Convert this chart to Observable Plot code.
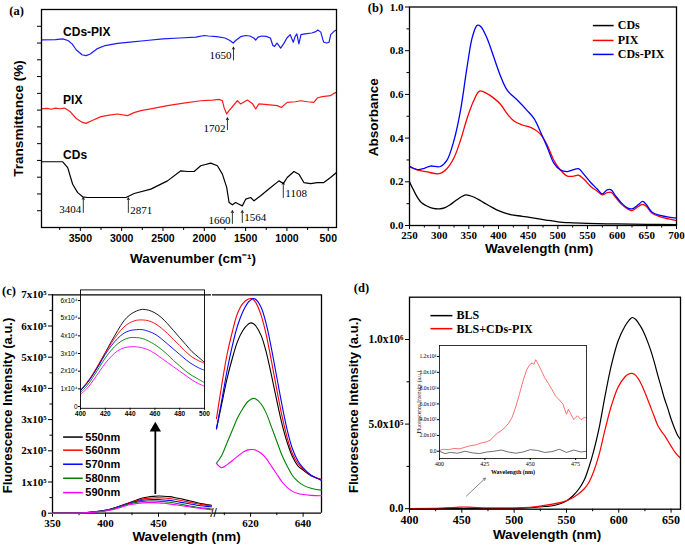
<!DOCTYPE html>
<html><head><meta charset="utf-8">
<script src="https://cdn.jsdelivr.net/npm/d3@7"></script>
<script src="https://cdn.jsdelivr.net/npm/@observablehq/plot@0.6"></script>
<style>
html,body{margin:0;padding:0;background:#fff;}
#fig{position:relative;width:685px;height:550px;overflow:hidden;background:#fff;}
#fig svg{position:absolute;left:0;top:0;}
</style></head><body><div id="fig"></div>
<script>
// ---------------- DATA ----------------
// (a) FTIR, arbitrary transmittance units (offset traces)
const ftirCDsPIX = [[3970,11.19],[3800,11.2],[3713,11.25],[3650,11.15],[3600,10.95],[3550,10.6],[3480,10.3],[3430,10.25],[3380,10.35],[3300,10.65],[3200,10.85],[3050,10.98],[2900,11.05],[2700,11.15],[2500,11.25],[2300,11.3],[2100,11.35],[2002,11.45],[1950,11.42],[1850,11.38],[1750,11.3],[1690,11.15],[1650,11.0],[1620,11.15],[1560,11.38],[1500,11.45],[1450,11.42],[1400,11.3],[1378,11.18],[1350,11.35],[1300,11.42],[1250,11.4],[1200,11.3],[1170,10.85],[1150,10.8],[1120,11.0],[1090,10.8],[1076,10.7],[1040,10.95],[1000,11.3],[960,11.5],[923,11.05],[900,11.4],[880,11.55],[855,10.95],[830,11.5],[780,11.55],[700,11.6],[650,11.68],[626,11.78],[590,11.65],[565,11.2],[553,11.05],[520,11.0],[490,11.05],[470,11.5],[430,11.7],[400,11.78]];
const ftirPIX = [[3970,7.07],[3900,7.1],[3850,7.05],[3800,7.12],[3750,7.08],[3693,7.12],[3620,6.9],[3550,6.5],[3480,6.28],[3432,6.21],[3350,6.4],[3250,6.61],[3150,6.7],[3050,6.77],[2928,6.67],[2850,6.85],[2767,6.97],[2600,7.12],[2445,7.27],[2250,7.42],[2043,7.56],[1900,7.6],[1821,7.64],[1781,7.56],[1761,7.16],[1729,6.77],[1700,6.97],[1660,7.2],[1600,7.56],[1560,7.37],[1479,7.6],[1419,7.4],[1378,7.07],[1338,7.37],[1237,7.33],[1117,7.27],[1068,7.16],[996,7.46],[900,7.5],[835,7.56],[750,7.5],[674,7.46],[633,7.72],[573,7.8],[472,7.86],[432,8.0],[400,8.06]];
const ftirCDs = [[3970,3.92],[3800,3.92],[3713,3.92],[3653,3.57],[3593,2.58],[3532,2.08],[3472,1.83],[3411,1.79],[3200,1.79],[2948,1.79],[2848,2.03],[2647,2.29],[2445,2.78],[2284,3.38],[2204,3.34],[2123,3.34],[2043,3.68],[1922,3.84],[1841,3.68],[1781,3.18],[1729,2.39],[1700,1.49],[1660,1.35],[1620,1.49],[1580,1.39],[1540,1.29],[1499,1.69],[1439,1.79],[1398,1.59],[1318,1.89],[1197,2.39],[1096,2.78],[1044,2.62],[996,2.98],[915,3.34],[855,3.18],[795,2.68],[714,2.62],[634,2.68],[553,2.68],[472,2.98],[400,3.28]];
const ftirMajorTicks = [3500,3000,2500,2000,1500,1000,500];
const ftirMinorTicks = [3750,3250,2750,2250,1750,1250,750];
const ftirYTicks = [1,2,3,4,5,6,7,8,9,10,11,12];
const ftirSeriesLabels = [{text:"CDs-PIX",x:3709,y:11.64},{text:"PIX",x:3709,y:7.62},{text:"CDs",x:3709,y:4.3}];
const ftirAnnotLeft = [{text:"1650",x:1647,y1:9.99,y2:10.75,ty:10.25},{text:"1702",x:1720,y1:5.83,y2:6.54,ty:5.91},{text:"3404",x:3464,y1:0.9,y2:1.79,ty:1.06},{text:"1660",x:1660,y1:0.24,y2:1.0,ty:0.44}];
const ftirAnnotRight = [{text:"2871",x:2919,y1:0.9,y2:1.77,ty:1.0},{text:"1564",x:1540,y1:0.3,y2:1.0,ty:0.6},{text:"1108",x:1044,y1:1.79,y2:2.69,ty:2.03}];

// (b) UV-vis absorbance
const uvCDs = [[250,0.2],[255,0.172],[260,0.145],[265,0.122],[270,0.105],[280,0.088],[290,0.078],[300,0.076],[310,0.082],[320,0.098],[330,0.118],[340,0.135],[345,0.14],[350,0.138],[360,0.128],[370,0.113],[380,0.097],[390,0.082],[400,0.068],[410,0.058],[420,0.05],[440,0.042],[460,0.034],[480,0.025],[500,0.017],[520,0.013],[550,0.01],[600,0.007],[650,0.005],[700,0.004]];
const uvPIX = [[250,0.268],[263,0.255],[280,0.245],[300,0.237],[313,0.26],[325,0.31],[336,0.39],[347,0.49],[358,0.57],[368,0.615],[380,0.605],[392,0.583],[403,0.556],[415,0.51],[426,0.478],[440,0.46],[455,0.448],[468,0.425],[480,0.38],[493,0.3],[504,0.255],[516,0.226],[527,0.226],[535,0.23],[544,0.212],[555,0.18],[566,0.158],[575,0.14],[583,0.15],[590,0.152],[597,0.13],[606,0.1],[617,0.077],[625,0.068],[636,0.088],[643,0.097],[649,0.088],[659,0.056],[673,0.04],[687,0.03],[700,0.022]];
const uvCDsPIX = [[250,0.272],[263,0.256],[275,0.262],[285,0.272],[302,0.27],[313,0.298],[325,0.39],[336,0.527],[347,0.725],[356,0.863],[364,0.916],[370,0.911],[381,0.855],[392,0.771],[403,0.687],[415,0.618],[432,0.573],[448,0.527],[460,0.489],[471,0.427],[482,0.359],[493,0.287],[504,0.255],[516,0.247],[527,0.256],[535,0.26],[544,0.234],[555,0.198],[566,0.168],[575,0.145],[583,0.163],[590,0.163],[597,0.137],[606,0.107],[617,0.081],[625,0.076],[636,0.096],[643,0.11],[649,0.096],[659,0.061],[673,0.046],[687,0.038],[700,0.034]];
const uvLegend = [{name:"CDs",color:"#000000",y:0.915},{name:"PIX",color:"#ff0000",y:0.847},{name:"CDs-PIX",color:"#0000ff",y:0.783}];

// (c) fluorescence at different excitation wavelengths
const flSeries = ["550nm","560nm","570nm","580nm","590nm"];
const flColors = ["#000000","#ff0000","#0000ff","#008000","#ff00ff"];
const flPreWl = [350,360,370,380,390];
const flPre = [[0,0,200,1500,4500],[0,0,200,1500,4600],[0,0,200,1400,4300],[0,0,180,1300,4000],[0,0,150,1200,3600]];
const flWl = [400,405,410,415,420,425,430,435,440,445,450,455,460,465,470,475,480,485,490,495,500];
const flBlue550 = [9000,13000,18000,24000,30500,37000,43000,48500,52000,54000,55000,54500,53000,50500,47000,43000,39000,35000,31000,28000,25000];
const flBlue560 = [9500,13500,18500,24500,30500,36000,41000,45000,47500,48800,49000,48500,47000,44500,41500,38000,34500,31000,28000,26000,24500];
const flBlue570 = [9000,13000,18000,23500,29500,34500,38500,41500,43000,43500,43500,42500,41000,38500,35500,32500,29500,26500,24000,22000,20500];
const flBlue580 = [8000,11500,16500,22000,27500,32000,35500,37800,39000,39000,38500,37000,35000,32500,29500,26000,23000,20000,17500,15500,13500];
const flBlue590 = [7000,10000,14500,19500,24500,28500,31500,33200,33800,33800,33200,32000,30000,27500,25000,22500,20000,17500,15000,13000,11500];
const flRedWl = [607,609,611,613,615,617,619,620,621,622,624,626,628,630,632,634,636,638,640,643,647];
const flRed550 = [270000,350000,430000,495000,550000,585000,605000,610000,608000,600000,570000,515000,440000,360000,285000,225000,180000,152000,138000,120000,108000];
const flRed560 = [303000,410000,507000,580000,640000,672000,686000,688000,685000,675000,635000,570000,485000,395000,310000,240000,190000,160000,142000,122000,107000];
const flRed570 = [270000,360000,455000,535000,600000,645000,675000,683000,688000,685000,660000,605000,525000,435000,345000,265000,205000,168000,145000,122000,105000];
const flRed580 = [160000,185000,225000,265000,305000,335000,358000,364000,368000,366000,350000,320000,275000,230000,185000,150000,120000,102000,90000,80000,74000];
const flRed590 = [160000,146000,155000,168000,182000,195000,203000,204000,204000,202000,192000,175000,150000,125000,100000,82000,70000,63000,60000,57000,56000];
const flYTicks = [0,100000,200000,300000,400000,500000,600000,700000];
const flYTickLabels = ["0","1x10⁵","2x10⁵","3x10⁵","4x10⁵","5x10⁵","6x10⁵","7x10⁵"];
const flInsetYTicks = [0,10000,20000,30000,40000,50000,60000];
const flInsetYTickLabels = ["0","1x10⁴","2x10⁴","3x10⁴","4x10⁴","5x10⁴","6x10⁴"];
const flLegendY = [244000,202000,157000,112000,66000];

// (d) BLS fluorescence
const blsMain = [[400,0],[430,1000],[460,1500],[490,1500],[500,2500],[510,4500],[520,8000],[530,13000],[540,22000],[549,43000],[556,75000],[562,118000],[567,170000],[571,236000],[576,340000],[581,470000],[587,670000],[593,850000],[599.5,994000],[606,1080000],[610,1115000],[613,1130000],[616,1120000],[618.5,1100000],[621.6,1070000],[624.8,1030000],[628,980000],[631.1,925000],[634.2,860000],[637.4,787000],[640.5,720000],[643.7,650000],[647,590000],[650,530000],[653,480000],[656.3,433000],[659,410000]];
const blsPixMain = [[400,1000],[430,3000],[445,8000],[452,10000],[460,8000],[475,4000],[490,3500],[500,4000],[510,6000],[520,11000],[535,25000],[549,45000],[556,65000],[562,90000],[567,118000],[571,150000],[576,220000],[581,315000],[587,470000],[593,610000],[599.5,720000],[606,780000],[609,795000],[612,800000],[615,795000],[618.5,770000],[621.6,735000],[624.8,690000],[628,640000],[631.1,590000],[634.2,540000],[637.4,490000],[640.5,460000],[643.7,433000],[647,400000],[650,370000],[653,340000],[656.3,315000],[659,300000]];
const blsInset = [[400,0],[403,-300],[406,-150],[410,-250],[414,0],[418,-200],[422,-300],[426,-100],[430,0],[434,150],[438,-100],[442,-250],[446,-100],[450,200],[454,100],[458,-150],[462,-50],[466,250],[470,-150],[474,150],[478,-100],[481,0]];
const blsPixInset = [[400,100],[402,250],[405,200],[408,350],[411,300],[414,500],[417,700],[420,800],[423,1050],[426,1200],[428,1400],[430,1900],[432,2300],[434,2600],[436,3000],[438,3500],[440,4300],[442,5600],[444,7200],[446,8900],[448,10300],[449.5,10900],[451,11200],[452,11000],[453,11600],[454,11200],[456,10300],[458,9300],[460,8600],[462,7800],[464,7000],[466,6500],[468,6000],[469,5300],[470,4700],[471,5300],[472,4900],[474,4000],[476,4500],[478,4000],[480,4300],[481,4200]];
const blsYTicks = [0,500000,1000000];
const blsYTickLabels = ["0.0","5.0x10⁵","1.0x10⁶"];
const blsInsetYTicks = [0,2000,4000,6000,8000,10000,12000];
const blsInsetYTickLabels = ["0.0","2.0x10³","4.0x10³","6.0x10³","8.0x10³","1.0x10⁴","1.2x10⁴"];
const blsLegend = [{name:"BLS",color:"#000000",y:1141000},{name:"BLS+CDs-PIX",color:"#ff0000",y:1064000}];

// ---------------- RENDER ----------------
const W = 685, H = 550;
const SANS = "Liberation Sans, Arial, sans-serif";
const SERIF = "Liberation Serif, Times New Roman, serif";
const fig = document.getElementById("fig");
function panel(opts) {
  const svg = Plot.plot(Object.assign({width: W, height: H, style: {background: "transparent", overflow: "visible"}}, opts));
  fig.append(svg);
}
const X = d => d[0], Y = d => d[1];
const blank = () => "";
const idt = d => d;
const C = {textAnchor: "middle", lineAnchor: "middle"};
function title(txt, o) { return Plot.text([txt], Object.assign({text: idt, fontWeight: "bold"}, C, o)); }

// ===== (a) =====
panel({
  marginLeft: 41, marginRight: 349, marginTop: 9, marginBottom: 323,
  x: {domain: [3970, 400]}, y: {domain: [0, 13]},
  marks: [
    Plot.axisX({ticks: ftirMajorTicks, tickSize: 4, tickPadding: 3, tickFormat: d => String(d), fontSize: 10.5, fontWeight: "bold", fontFamily: SANS, label: null}),
    Plot.axisX({ticks: ftirMinorTicks, tickSize: 3, tickFormat: blank, label: null}),
    Plot.axisY({ticks: ftirYTicks, tickSize: 4, tickFormat: blank, label: null}),
    Plot.line(ftirCDsPIX, {x: X, y: Y, stroke: "#1a1aff", strokeWidth: 1.2}),
    Plot.line(ftirPIX, {x: X, y: Y, stroke: "#ff1a1a", strokeWidth: 1.2}),
    Plot.line(ftirCDs, {x: X, y: Y, stroke: "#000", strokeWidth: 1.2}),
    Plot.text(ftirSeriesLabels, {x: "x", y: "y", text: "text", textAnchor: "start", fontSize: 12, fontWeight: "bold", fontFamily: SANS}),
    Plot.arrow(ftirAnnotLeft, {x1: "x", x2: "x", y1: "y1", y2: "y2", headLength: 4, strokeWidth: 0.8}),
    Plot.arrow(ftirAnnotRight, {x1: "x", x2: "x", y1: "y1", y2: "y2", headLength: 4, strokeWidth: 0.8}),
    Plot.text(ftirAnnotLeft, {x: "x", y: "ty", text: "text", textAnchor: "end", dx: -2, fontSize: 11, fontFamily: SERIF}),
    Plot.text(ftirAnnotRight, {x: "x", y: "ty", text: "text", textAnchor: "start", dx: 2, fontSize: 11, fontFamily: SERIF}),
    Plot.frame({strokeWidth: 1.3}),
    title("Wavenumber (cm⁻¹)", {frameAnchor: "bottom", dx: 4, dy: 31, fontSize: 13.5, fontFamily: SANS}),
    title("Transmittance (%)", {frameAnchor: "left", rotate: -90, dx: -23, fontSize: 13.5, fontFamily: SANS}),
    title("(a)", {frameAnchor: "top-left", dx: -25, dy: 1, fontSize: 12.5, fontFamily: SERIF})
  ]
});

// ===== (b) =====
panel({
  marginLeft: 409, marginRight: 9, marginTop: 6.5, marginBottom: 325,
  x: {domain: [250, 700]}, y: {domain: [0, 1]},
  marks: [
    Plot.axisX({ticks: d3.range(250, 701, 50), tickSize: 4, tickPadding: 2, tickFormat: d => String(d), fontSize: 11, fontWeight: "bold", fontFamily: SERIF, label: null}),
    Plot.axisX({ticks: d3.range(275, 700, 50), tickSize: 2.5, tickFormat: blank, label: null}),
    Plot.axisY({ticks: [0, 0.2, 0.4, 0.6, 0.8, 1.0], tickSize: 4, tickPadding: 2, tickFormat: d => d.toFixed(1), fontSize: 11, fontWeight: "bold", fontFamily: SERIF, label: null}),
    Plot.axisY({ticks: [0.1, 0.3, 0.5, 0.7, 0.9], tickSize: 2.5, tickFormat: blank, label: null}),
    Plot.line(uvCDs, {x: X, y: Y, stroke: "#000", strokeWidth: 1.3, curve: "catmull-rom"}),
    Plot.line(uvPIX, {x: X, y: Y, stroke: "#ff0000", strokeWidth: 1.3, curve: "catmull-rom"}),
    Plot.line(uvCDsPIX, {x: X, y: Y, stroke: "#0000ff", strokeWidth: 1.3, curve: "catmull-rom"}),
    Plot.link(uvLegend, {x1: () => 559, x2: () => 594, y1: "y", y2: "y", stroke: "color", strokeWidth: 1.5}),
    Plot.text(uvLegend, {x: () => 601, y: "y", text: "name", textAnchor: "start", fontSize: 12, fontWeight: "bold", fontFamily: SERIF}),
    Plot.frame({strokeWidth: 1.3}),
    title("Wavelength (nm)", {frameAnchor: "bottom", dx: -4, dy: 23, fontSize: 13.5, fontFamily: SANS}),
    title("Absorbance", {frameAnchor: "left", rotate: -90, dx: -36, dy: 1, fontSize: 13.5, fontFamily: SANS}),
    title("(b)", {frameAnchor: "top-left", dx: -34, dy: 0.5, fontSize: 12.5, fontFamily: SERIF})
  ]
});

// ===== (c) left segment =====
const flBlueArrays = [flBlue550, flBlue560, flBlue570, flBlue580, flBlue590];
const flLeftData = flSeries.map((s, i) =>
  flPreWl.map((w, j) => ({s, w, v: flPre[i][j]})).concat(flWl.map((w, j) => ({s, w, v: flBlueArrays[i][j]})))
).flat();
const flInsetData = flSeries.map((s, i) => flWl.map((w, j) => ({s, w, v: flBlueArrays[i][j]}))).flat();
const flRightArrays = [flRed550, flRed560, flRed570, flRed580, flRed590];
const flRightData = flSeries.map((s, i) => flRedWl.map((w, j) => ({s, w, v: flRightArrays[i][j]}))).flat();
const flLegendData = flSeries.map((s, i) => ({s, y: flLegendY[i]}));
const colorScale = {domain: flSeries, range: flColors};

panel({
  marginLeft: 52, marginRight: 474, marginTop: 294.3, marginBottom: 37.3,
  x: {domain: [350, 500]}, y: {domain: [0, 700000]}, color: colorScale,
  marks: [
    Plot.axisX({ticks: [350, 400, 450], tickSize: 4, tickPadding: 2, tickFormat: d => String(d), fontSize: 11, fontWeight: "bold", fontFamily: SERIF, label: null}),
    Plot.axisX({ticks: [375, 425, 475], tickSize: 2.5, tickFormat: blank, label: null}),
    Plot.axisY({ticks: flYTicks, tickSize: 4, tickPadding: 2, tickFormat: d => flYTickLabels[flYTicks.indexOf(d)], fontSize: 11, fontWeight: "bold", fontFamily: SERIF, label: null}),
    Plot.axisY({ticks: d3.range(50000, 700000, 100000), tickSize: 2.5, tickFormat: blank, label: null}),
    Plot.ruleY([0, 700000], {strokeWidth: 1.3}),
    Plot.ruleX([350], {strokeWidth: 1.3}),
    Plot.line(flLeftData, {x: "w", y: "v", z: "s", stroke: "s", strokeWidth: 1.1, curve: "catmull-rom"}),
    Plot.link(flLegendData, {x1: () => 360, x2: () => 378.5, y1: "y", y2: "y", stroke: "s", strokeWidth: 1.5}),
    Plot.text(flLegendData, {x: () => 381, y: "y", text: "s", textAnchor: "start", fontSize: 11, fontWeight: "bold", fontFamily: SANS}),
    Plot.ruleX([447], {y1: 60000, y2: 265000, strokeWidth: 1.8}),
    Plot.dot([447], {x: idt, y: () => 272000, symbol: "triangle", r: 4.2, fill: "#000", stroke: null}),
    Plot.text(["//"], {text: idt, frameAnchor: "bottom-right", textAnchor: "middle", lineAnchor: "middle", dx: 2, dy: 0, fontSize: 12, fontFamily: SANS}),
    title("Wavelength (nm)", {frameAnchor: "bottom-left", dx: 134, dy: 23, fontSize: 13.5, fontFamily: SANS}),
    title("Fluorescence Intensity (a.u.)", {frameAnchor: "left", rotate: -90, dx: -45, dy: 1.5, fontSize: 13, fontFamily: SANS}),
    title("(c)", {frameAnchor: "top-left", dx: -43.5, dy: -4, fontSize: 12.5, fontFamily: SERIF})
  ]
});

// ===== (c) right segment =====
panel({
  marginLeft: 212, marginRight: 364, marginTop: 294.3, marginBottom: 37.3,
  x: {domain: [605.5, 647]}, y: {domain: [0, 700000], axis: null}, color: colorScale,
  marks: [
    Plot.axisX({ticks: [620, 640], tickSize: 4, tickPadding: 2, tickFormat: d => String(d), fontSize: 11, fontWeight: "bold", fontFamily: SERIF, label: null}),
    Plot.axisX({ticks: [610, 630], tickSize: 2.5, tickFormat: blank, label: null}),
    Plot.ruleY([0, 700000], {strokeWidth: 1.3}),
    Plot.ruleX([647], {strokeWidth: 1.3}),
    Plot.line(flRightData, {x: "w", y: "v", z: "s", stroke: "s", strokeWidth: 1.1, curve: "catmull-rom"})
  ]
});

// ===== (c) inset =====
panel({
  marginLeft: 80, marginRight: 481, marginTop: 289.4, marginBottom: 142.2,
  x: {domain: [400, 500]}, y: {domain: [-1000, 66000]}, color: colorScale,
  marks: [
    Plot.axisX({ticks: [400, 420, 440, 460, 480, 500], tickSize: 2, tickPadding: 1, tickFormat: d => String(d), fontSize: 6.5, fontWeight: "bold", fontFamily: SANS, label: null}),
    Plot.axisY({ticks: flInsetYTicks, tickSize: 2, tickPadding: 1, tickFormat: d => flInsetYTickLabels[flInsetYTicks.indexOf(d)], fontSize: 6.5, fontFamily: SANS, label: null}),
    Plot.line(flInsetData, {x: "w", y: "v", z: "s", stroke: "s", strokeWidth: 0.9, curve: "catmull-rom"}),
    Plot.frame({strokeWidth: 0.9})
  ]
});

// ===== (d) =====
panel({
  marginLeft: 409, marginRight: 5, marginTop: 296.7, marginBottom: 41.3,
  x: {domain: [400, 659]}, y: {domain: [-3000, 1250000]},
  marks: [
    Plot.axisX({ticks: [400, 450, 500, 550, 600, 650], tickSize: 4, tickPadding: 2, tickFormat: d => String(d), fontSize: 12, fontWeight: "bold", fontFamily: SERIF, label: null}),
    Plot.axisX({ticks: [425, 475, 525, 575, 625], tickSize: 2.5, tickFormat: blank, label: null}),
    Plot.axisY({ticks: blsYTicks, tickSize: 4, tickPadding: 2, tickFormat: d => blsYTickLabels[blsYTicks.indexOf(d)], fontSize: 11.5, fontWeight: "bold", fontFamily: SERIF, label: null}),
    Plot.axisY({ticks: [250000, 750000], tickSize: 2.5, tickFormat: blank, label: null}),
    Plot.line(blsMain, {x: X, y: Y, stroke: "#000", strokeWidth: 1.2, curve: "catmull-rom"}),
    Plot.line(blsPixMain, {x: X, y: Y, stroke: "#ff0000", strokeWidth: 1.2, curve: "catmull-rom"}),
    Plot.link(blsLegend, {x1: () => 420, x2: () => 441, y1: "y", y2: "y", stroke: "color", strokeWidth: 1.5}),
    Plot.text(blsLegend, {x: () => 445, y: "y", text: "name", textAnchor: "start", fontSize: 12, fontWeight: "bold", fontFamily: SERIF}),
    Plot.arrow([0], {x1: () => 454.4, y1: () => 74400, x2: () => 472.5, y2: () => 180600, stroke: "#555", strokeWidth: 0.7, headLength: 5}),
    Plot.frame({strokeWidth: 1.3}),
    title("Wavelength (nm)", {frameAnchor: "bottom", dx: 2, dy: 25, fontSize: 13.5, fontFamily: SANS}),
    title("Fluorescence Intensity (a.u.)", {frameAnchor: "left", rotate: -90, dx: -56, dy: 2, fontSize: 13, fontFamily: SANS}),
    title("(d)", {frameAnchor: "top-left", dx: -48, dy: -9, fontSize: 12.5, fontFamily: SERIF})
  ]
});

// ===== (d) inset =====
panel({
  marginLeft: 439, marginRight: 99, marginTop: 345, marginBottom: 92,
  x: {domain: [400, 481]}, y: {domain: [-920, 13400]},
  marks: [
    Plot.axisX({ticks: [400, 425, 450, 475], tickSize: 2, tickPadding: 1, tickFormat: d => String(d), fontSize: 6, fontFamily: SERIF, label: null}),
    Plot.axisY({ticks: blsInsetYTicks, tickSize: 2, tickPadding: 1, tickFormat: d => blsInsetYTickLabels[blsInsetYTicks.indexOf(d)], fontSize: 5.5, fontFamily: SERIF, label: null}),
    Plot.line(blsInset, {x: X, y: Y, stroke: "#333", strokeWidth: 0.7}),
    Plot.line(blsPixInset, {x: X, y: Y, stroke: "#ff3333", strokeWidth: 0.7}),
    Plot.frame({strokeWidth: 0.8}),
    title("Wavelength (nm)", {frameAnchor: "bottom", dy: 14, fontSize: 6, fontFamily: SERIF}),
    title("Fluorescence Intensity (a.u.)", {frameAnchor: "left", rotate: -90, dx: -20, fontSize: 5.5, fontWeight: "normal", fontFamily: SERIF})
  ]
});
</script></body></html>
